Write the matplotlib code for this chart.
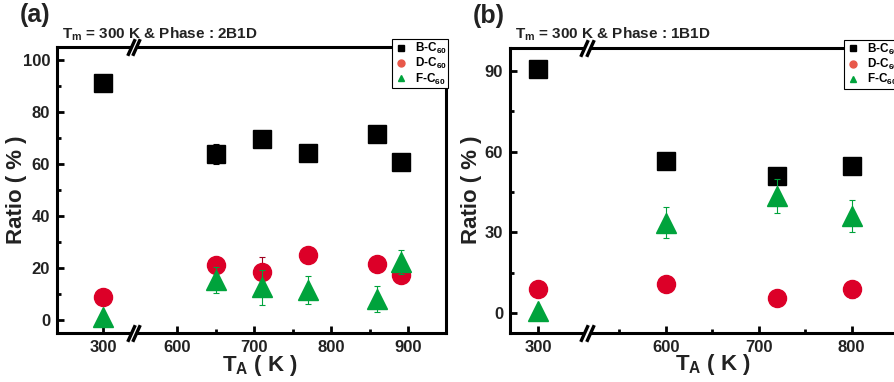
import matplotlib
matplotlib.use("Agg")
import matplotlib.pyplot as plt
import matplotlib.transforms as mtransforms
from matplotlib.lines import Line2D

plt.rcParams["font.family"] = ["Liberation Sans", "DejaVu Sans"]
plt.rcParams["font.weight"] = "bold"
plt.rcParams["axes.labelweight"] = "bold"
plt.rcParams["mathtext.fontset"] = "custom"
plt.rcParams["mathtext.rm"] = "Liberation Sans:bold"
plt.rcParams["mathtext.it"] = "Liberation Sans:bold"
plt.rcParams["mathtext.bf"] = "Liberation Sans:bold"
plt.rcParams["mathtext.default"] = "rm"

# panel (a): Tm = 300 K, phase 2B1D
temps_a = [300, 650, 710, 770, 860, 890]
b_a = [91.2, 63.8, 69.5, 64.3, 71.4, 60.9]
b_err_a = [0, 3.8, 0, 0, 0, 0]
d_a = [9.0, 21.2, 18.3, 24.9, 21.4, 17.3]
d_err_a = [0, 0, 5.8, 0, 0, 3.2]
f_a = [1.0, 15.4, 12.6, 11.5, 8.0, 22.4]
f_err_a = [0, 5.0, 6.8, 5.5, 5.0, 4.6]

# panel (b): Tm = 300 K, phase 1B1D
temps_b = [300, 600, 720, 800]
b_b = [90.8, 56.5, 50.8, 54.6]
b_err_b = [0, 0, 0, 0]
d_b = [8.7, 10.6, 5.6, 8.7]
d_err_b = [0, 0, 0, 3.0]
f_b = [0.7, 33.5, 43.5, 36.2]
f_err_b = [0, 5.8, 6.3, 6.0]

xticks_a = [300, 600, 700, 800, 900]
xticks_b = [300, 600, 700, 800]

red = "#dc0028"
green = "#00a33c"


def xpos(temps, shift):
    # the low-temperature point sits left of the axis break
    return [t + shift if t < 500 else t for t in temps]


def break_marks(axes, xb, half):
    trans = mtransforms.blended_transform_factory(axes.transData, axes.transAxes)
    for yb in (0.0, 1.0):
        axes.plot([xb - half, xb + half], [yb, yb], color="white", lw=3.5,
                  transform=trans, clip_on=False, zorder=5,
                  solid_capstyle="butt")
        axes.plot([xb - half, xb + half], [yb, yb], ls="none",
                  marker=[(-0.45, -1), (0.45, 1)], ms=12, mew=2.4,
                  color="black", transform=trans, clip_on=False, zorder=6)


def panel(axes, temps, shift, bvals, berr, dvals, derr, fvals, ferr,
          xticks, minors, xlim, ylim, yticks, yminor, xb, half, letter, phase,
          ylab_x):
    xs = xpos(temps, shift)
    axes.errorbar(xs, bvals, yerr=berr, fmt="s", color="black", ms=12.5,
                  elinewidth=0.8, capsize=2, capthick=0.8, zorder=3)
    axes.errorbar(xs, dvals, yerr=derr, fmt="o", color=red, ecolor="#a00020",
                  ms=13, elinewidth=0.8, capsize=2, capthick=0.8, zorder=3)
    axes.errorbar(xs, fvals, yerr=ferr, fmt="^", color=green, ms=14.5,
                  elinewidth=0.8, capsize=2, capthick=0.8, zorder=4)
    axes.set_xlim(xlim)
    axes.set_ylim(ylim)
    axes.set_xticks(xpos(xticks, shift))
    axes.set_xticklabels([str(t) for t in xticks])
    axes.set_xticks(minors, minor=True)
    axes.set_yticks(yticks)
    axes.set_yticks(yminor, minor=True)
    axes.tick_params(which="both", direction="in", top=False, right=False,
                     width=2, labelsize=12)
    axes.tick_params(which="major", length=5, pad=5)
    axes.tick_params(which="minor", length=3)
    for lab in axes.get_xticklabels() + axes.get_yticklabels():
        lab.set_fontweight("bold")
        lab.set_color("#222222")
    for sp in axes.spines.values():
        sp.set_linewidth(2.2)
    axes.set_xlabel("T$_{A}$ ( K )", fontsize=16, color="#222222")
    axes.set_ylabel("Ratio ( % )", fontsize=16, color="#222222")
    axes.xaxis.set_label_coords(0.522, -0.068)
    axes.yaxis.set_label_coords(ylab_x, 0.5)
    break_marks(axes, xb, half)
    axes.text(-0.096, 1.155, letter, transform=axes.transAxes, fontsize=18,
              fontweight="bold", va="top", color="#222222")
    axes.text(0.013, 1.015, "T$_{m}$ = 300 K & Phase : " + phase,
              transform=axes.transAxes, fontsize=11, fontweight="bold",
              va="bottom", color="#222222")
    handles = [Line2D([], [], ls="none", marker="s", color="black", ms=5),
               Line2D([], [], ls="none", marker="o", color="#e8584a", ms=5),
               Line2D([], [], ls="none", marker="^", color=green, ms=5)]
    labels = ["B-C$_{60}$", "D-C$_{60}$", "F-C$_{60}$"]
    leg = axes.legend(handles, labels, loc="upper right",
                      bbox_to_anchor=(1.006, 1.028),
                      prop=dict(size=8.5, weight="bold"),
                      fancybox=False, framealpha=1, edgecolor="black",
                      borderpad=0.15, handlelength=1.3, handletextpad=0.5,
                      labelspacing=0.02, borderaxespad=0)
    leg.get_frame().set_linewidth(0.8)
    leg.set_zorder(10)


figure = plt.figure(figsize=(8.95, 3.82), dpi=100)
ax_a = figure.add_axes([0.0637, 0.128, 0.4346, 0.749])
ax_b = figure.add_axes([0.5698, 0.129, 0.4335, 0.746])

panel(ax_a, temps_a, 204, b_a, b_err_a, d_a, d_err_a, f_a, f_err_a,
      xticks_a, [650, 750, 850], (444, 949), (-5, 105),
      [0, 20, 40, 60, 80, 100], [10, 30, 50, 70, 90], 543, 3.5, "(a)", "2B1D",
      -0.077)
panel(ax_b, temps_b, 162.5, b_b, b_err_b, d_b, d_err_b, f_b, f_err_b,
      xticks_b, [550, 650, 750], (432, 850), (-7.4, 98.7),
      [0, 30, 60, 90], [15, 45, 75], 515, 3.0, "(b)", "1B1D",
      -0.072)

figure.savefig("out.png", dpi=100)
